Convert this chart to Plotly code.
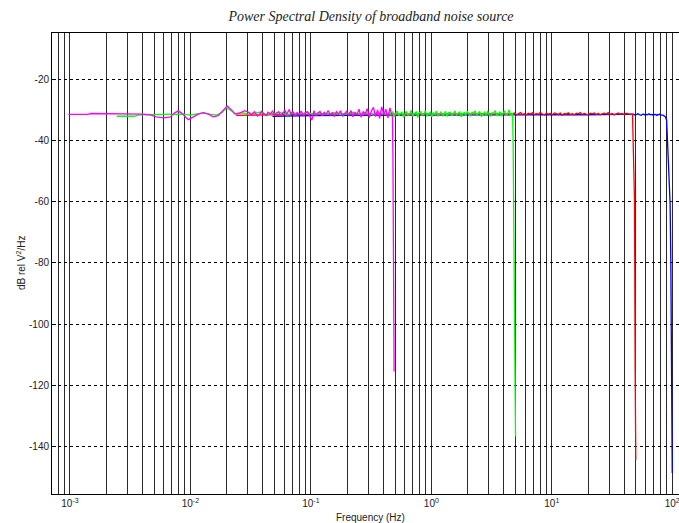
import math
import plotly.graph_objects as go

# ---------------- data ----------------
# magenta: fs = 1 Hz record
mag_low_f = [0.00097, 0.00140, 0.00150, 0.0023, 0.0026, 0.0039, 0.0046, 0.0052, 0.0060, 0.0068,
             0.0074, 0.0079, 0.0084, 0.0090, 0.0096, 0.0106, 0.0116, 0.0128, 0.0141, 0.0154,
             0.0170, 0.0188, 0.0202, 0.0220, 0.0234, 0.0250, 0.0266, 0.0283]
mag_low_db = [-31.5, -31.5, -31.2, -31.2, -31.4, -31.4, -31.6, -32.3, -32.6, -32.3,
              -31.0, -30.4, -31.0, -32.3, -33.2, -32.3, -31.4, -30.9, -31.4, -32.3,
              -31.9, -30.1, -28.7, -30.1, -31.4, -31.2, -30.7, -30.3]
mag_mid_f = [0.031, 0.032, 0.034, 0.035, 0.036, 0.038, 0.039, 0.041, 0.043, 0.044,
             0.046, 0.048, 0.050, 0.052, 0.054, 0.056, 0.058, 0.061, 0.063, 0.066,
             0.068, 0.071, 0.074, 0.077, 0.080, 0.083, 0.087, 0.090, 0.094, 0.098,
             0.102, 0.106, 0.110, 0.114, 0.119, 0.124, 0.129, 0.134, 0.139, 0.145,
             0.151, 0.157, 0.163, 0.170, 0.176, 0.183, 0.191, 0.198, 0.206, 0.215,
             0.223, 0.232, 0.241, 0.251, 0.261, 0.272, 0.283, 0.294, 0.306, 0.318,
             0.331, 0.344, 0.358, 0.372, 0.387, 0.403, 0.419, 0.436, 0.453, 0.468]
mag_mid_db = [-31.0, -31.6, -30.6, -31.4, -32.0, -31.2, -30.5, -31.5, -31.9, -30.8,
              -31.3, -30.4, -31.7, -31.0, -30.6, -31.8, -31.1, -30.2, -31.5, -29.9,
              -31.2, -30.7, -32.0, -30.9, -31.6, -30.4, -32.1, -31.0, -30.6, -31.8,
              -33.4, -30.3, -32.0, -31.0, -30.5, -31.9, -30.8, -31.5, -30.2, -31.7,
              -31.0, -32.2, -30.6, -31.4, -30.3, -32.0, -31.1, -30.5, -31.8, -30.2,
              -32.3, -30.9, -31.6, -29.8, -32.4, -30.6, -31.3, -29.6, -32.5, -30.4,
              -29.2, -32.2, -30.0, -32.8, -29.0, -31.5, -29.8, -32.6, -29.4, -31.8]
mag_drop_f = [0.476, 0.480, 0.484, 0.491]
mag_drop_db = [-32.5, -45.3, -83.4, -115.5]

# green: fs = 10 Hz record
grn_low_f = [0.00244, 0.0034, 0.0038, 0.0056, 0.0068, 0.0077, 0.0087, 0.0099, 0.0112, 0.0128,
             0.0145, 0.0165, 0.0185, 0.0200, 0.0218, 0.0236, 0.0275, 0.030, 0.034, 0.038,
             0.043, 0.049, 0.056, 0.064, 0.072, 0.082, 0.093, 0.105, 0.12, 0.135,
             0.155, 0.175, 0.2, 0.225, 0.255, 0.29, 0.33, 0.37, 0.41, 0.44]
grn_low_db = [-32.1, -32.1, -31.6, -31.5, -31.4, -31.2, -31.4, -31.7, -31.4, -31.0,
              -31.4, -31.7, -30.7, -29.2, -30.3, -31.2, -31.0, -31.4, -31.1, -30.8,
              -31.5, -31.2, -30.9, -31.6, -31.0, -31.3, -30.8, -31.5, -31.1, -31.4,
              -30.9, -31.6, -31.2, -30.8, -31.5, -31.0, -31.7, -30.9, -31.3, -31.1]
grn_mid_f = [0.45, 0.46, 0.48, 0.49, 0.51, 0.52, 0.54, 0.55, 0.57, 0.59,
             0.61, 0.62, 0.64, 0.66, 0.68, 0.70, 0.72, 0.75, 0.77, 0.79,
             0.82, 0.84, 0.87, 0.89, 0.92, 0.95, 0.98, 1.01, 1.04, 1.07,
             1.10, 1.13, 1.17, 1.20, 1.24, 1.28, 1.31, 1.35, 1.39, 1.44,
             1.48, 1.52, 1.57, 1.62, 1.67, 1.72, 1.77, 1.82, 1.88, 1.93,
             1.99, 2.05, 2.11, 2.18, 2.24, 2.31, 2.38, 2.45, 2.52, 2.60,
             2.68, 2.76, 2.84, 2.93, 3.01, 3.10, 3.20, 3.29, 3.39, 3.49,
             3.60, 3.71, 3.82, 3.93, 4.05, 4.17, 4.30, 4.43, 4.56, 4.70]
grn_mid_db = [-31.0, -31.8, -30.6, -32.2, -31.1, -30.4, -32.0, -31.3, -30.8, -32.4,
              -31.0, -30.5, -31.9, -31.4, -30.2, -32.1, -31.2, -30.7, -32.5, -31.0,
              -30.6, -31.8, -31.3, -30.3, -32.0, -31.5, -30.8, -32.3, -30.9, -31.6,
              -30.4, -32.1, -31.2, -30.7, -31.9, -31.4, -30.5, -32.2, -31.0, -30.8,
              -32.0, -31.3, -30.4, -31.7, -31.1, -30.6, -32.3, -31.2, -30.9, -31.8,
              -30.5, -31.5, -32.1, -30.7, -31.3, -30.3, -31.9, -31.1, -30.6, -32.2,
              -31.4, -30.8, -31.7, -30.4, -31.6, -32.0, -30.9, -31.2, -30.2, -31.8,
              -31.4, -30.6, -32.1, -31.0, -30.3, -31.7, -31.2, -30.0, -32.0, -31.1]
grn_drop_f = [4.73, 4.78, 4.85, 5.0]
grn_drop_db = [-31.5, -42.1, -69.3, -136.7]

# red: fs = 100 Hz record
red_low_f = [0.024, 0.030, 0.040, 0.060, 0.10, 0.20, 0.50, 1.0, 2.0, 4.5]
red_low_db = [-31.8, -31.7, -31.6, -31.5, -31.4, -31.4, -31.3, -31.3, -31.3, -31.3]
red_mid_f = [4.7, 4.9, 5.1, 5.3, 5.5, 5.7, 5.9, 6.1, 6.4, 6.6,
             6.9, 7.2, 7.4, 7.7, 8.0, 8.3, 8.7, 9.0, 9.4, 9.7,
             10.1, 10.5, 10.9, 11.3, 11.8, 12.2, 12.7, 13.2, 13.7, 14.2,
             14.8, 15.4, 16.0, 16.6, 17.2, 17.9, 18.6, 19.3, 20.1, 20.8,
             21.7, 22.5, 23.4, 24.3, 25.2, 26.2, 27.2, 28.3, 29.4, 30.5,
             31.7, 32.9, 34.2, 35.5, 36.9, 38.4, 39.8, 41.4, 43.0, 44.7]
red_mid_db = [-31.3, -31.0, -31.6, -31.2, -30.9, -31.5, -31.3, -31.7, -31.1, -31.4,
              -31.0, -31.6, -31.2, -31.5, -30.9, -31.3, -31.7, -31.1, -31.4, -31.2,
              -31.6, -31.0, -31.3, -31.5, -31.1, -31.8, -31.2, -31.4, -31.0, -31.5,
              -31.3, -31.6, -31.1, -31.3, -30.9, -31.5, -31.2, -31.4, -31.7, -31.1,
              -31.3, -31.0, -31.5, -31.2, -31.6, -31.3, -31.1, -31.4, -30.9, -31.5,
              -31.2, -31.7, -31.3, -31.0, -31.4, -31.2, -31.6, -31.1, -31.3, -31.5]
red_drop_f = [46.8, 47.3, 48.6, 49.2, 49.8]
red_drop_db = [-31.4, -37.7, -59.5, -114.4, -144.3]

# blue: fs = 200 Hz record
blu_low_f = [0.048, 0.06, 0.08, 0.1, 0.2, 0.5, 1.0, 2.0, 5.0, 10.0, 20.0, 40.0]
blu_low_db = [-32.1, -32.1, -32.0, -31.9, -31.8, -31.7, -31.7, -31.6, -31.6, -31.6, -31.6, -31.6]
blu_mid_f = [46.0, 47.5, 49.0, 50.5, 52.0, 53.5, 55.0, 56.5, 58.0, 59.5,
             61.0, 62.5, 64.0, 65.5, 67.0, 68.5, 70.0, 71.5, 73.0, 74.5,
             76.0, 77.5, 79.0, 80.5, 82.0, 83.5, 85.0]
blu_mid_db = [-31.6, -31.4, -31.7, -31.5, -31.3, -31.6, -31.8, -31.5, -31.4, -31.7,
              -31.5, -31.6, -31.3, -31.6, -31.5, -31.7, -31.4, -31.6, -31.5, -31.8,
              -31.5, -31.6, -31.4, -31.7, -31.6, -31.7, -31.9]
blu_drop_f = [87.5, 89.8, 91.0, 92.9, 96.0, 97.3, 98.5, 100.0]
blu_drop_db = [-32.2, -33.4, -39.9, -48.6, -60.6, -79.6, -107.3, -148.6]

y_ticks = [-140, -120, -100, -80, -60, -40, -20]
x_decades = [-3, -2, -1, 0, 1, 2]

# ---------------- figure ----------------
W, H = 679, 523
L, R, T, B = 52, 0, 33, 29

series = [
    (blu_low_f + blu_mid_f + blu_drop_f, blu_low_db + blu_mid_db + blu_drop_db, "#0000ff"),
    (red_low_f + red_mid_f + red_drop_f, red_low_db + red_mid_db + red_drop_db, "#ff0000"),
    (grn_low_f + grn_mid_f + grn_drop_f, grn_low_db + grn_mid_db + grn_drop_db, "#00ff00"),
    (mag_low_f + mag_mid_f + mag_drop_f, mag_low_db + mag_mid_db + mag_drop_db, "#ff00ff"),
]

fig = go.Figure()
for xs, ys, col in series:
    fig.add_trace(go.Scatter(x=xs, y=ys, mode="lines",
                             line=dict(color=col, width=1.3), showlegend=False,
                             hoverinfo="skip"))

x_lo, x_hi = -3.149, 2.056
major_vals = [10.0 ** d for d in x_decades]
major_text = ["10<sup>%d</sup>" % d for d in x_decades]
minor_vals = []
for d in [-4] + x_decades:
    for m in range(2, 10):
        v = m * 10.0 ** d
        if x_lo <= math.log10(v) <= x_hi:
            minor_vals.append(v)

font_sans = "Liberation Sans, Arial, sans-serif"
grid_col = "#2a2a2a"

fig.update_layout(
    width=W, height=H,
    margin=dict(l=L, r=R, t=T, b=B, pad=0),
    paper_bgcolor="white", plot_bgcolor="white",
    font=dict(family=font_sans, size=10, color="#222"),
    title=dict(text="Power Spectral Density of broadband noise source",
               font=dict(family="Liberation Serif, Times New Roman, serif", size=14,
                         color="#222", style="italic"),
               x=371 / W, xref="container", xanchor="center",
               y=1 - 16.5 / H, yref="container", yanchor="middle"),
    xaxis=dict(type="log", range=[x_lo, x_hi],
               tickmode="array", tickvals=major_vals, ticktext=major_text,
               showgrid=True, gridcolor=grid_col, gridwidth=1,
               minor=dict(tickmode="array", tickvals=minor_vals, showgrid=True,
                          gridcolor=grid_col, gridwidth=1, ticks=""),
               showline=True, linecolor="black", linewidth=1, mirror=True,
               ticks="", zeroline=False, automargin=False,
               ticklabeloverflow="allow",
               tickfont=dict(family=font_sans, size=10, color="#222")),
    yaxis=dict(range=[-155.5, -4.9], tickvals=y_ticks,
               ticktext=[str(v) for v in y_ticks],
               showgrid=True, gridcolor="black", gridwidth=1, griddash="dot",
               showline=True, linecolor="black", linewidth=1, mirror=False,
               ticks="inside", ticklen=4, tickcolor="black",
               zeroline=False, automargin=False,
               tickfont=dict(family=font_sans, size=10, color="#222")),
    annotations=[
        dict(text="dB rel V<sup>2</sup>/Hz", xref="paper", yref="paper",
             x=(21 - L) / (W - L), y=0.501, textangle=-90, showarrow=False,
             xanchor="center", yanchor="middle",
             font=dict(family=font_sans, size=10, color="#222")),
        dict(text="Frequency (Hz)", xref="paper", yref="paper",
             x=(370 - L) / (W - L), y=-(517 - (H - B)) / (H - T - B), showarrow=False,
             xanchor="center", yanchor="middle",
             font=dict(family=font_sans, size=10, color="#222")),
    ],
)

fig.write_html("out.html", config={"displayModeBar": False},
               post_script="document.body.style.margin='0px';document.body.style.overflow='hidden';")
